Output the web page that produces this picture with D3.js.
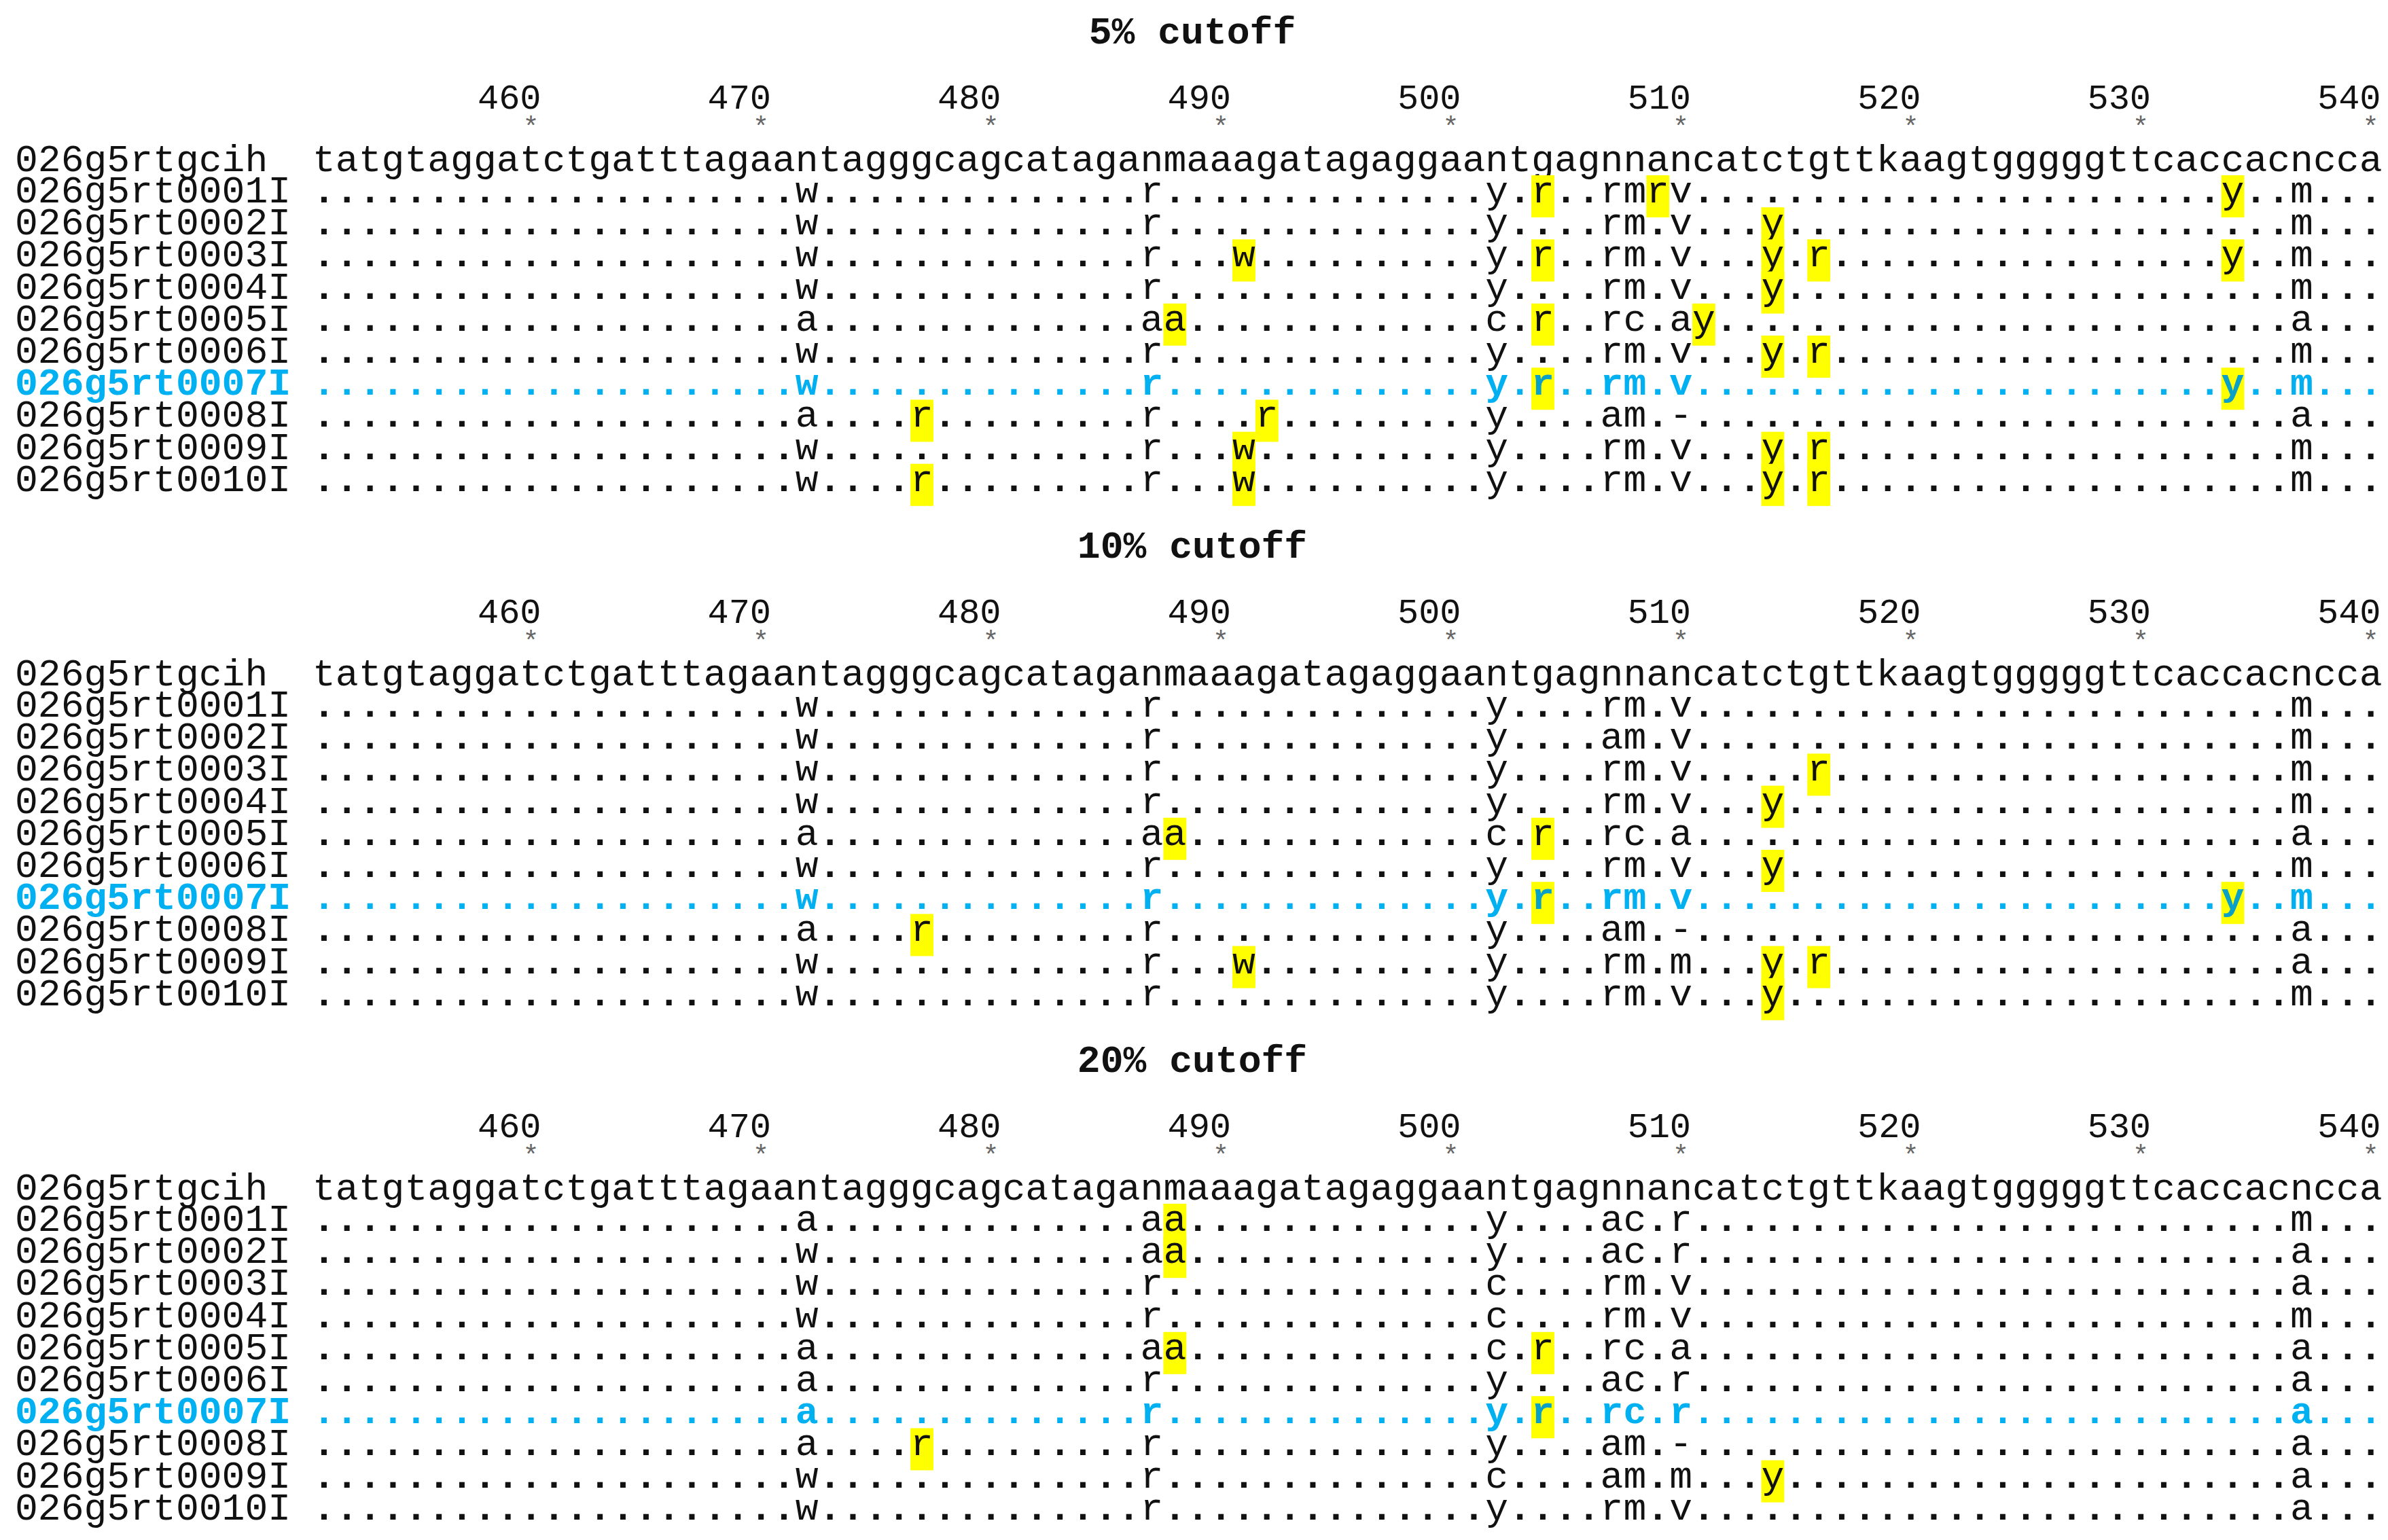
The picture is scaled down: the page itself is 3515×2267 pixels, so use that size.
<!DOCTYPE html>
<html>
<head>
<meta charset="utf-8">
<script src="https://cdn.jsdelivr.net/npm/d3@7"></script>
<style>
  body { margin: 0; background: #fff; }
  text { font-family: "Courier New", "Liberation Mono", monospace; }
</style>
</head>
<body>
<div id="chart"></div>
<script>
// sequence window shown in every panel
var firstPos = 451, lastPos = 540;
var consensus = "tatgtaggatctgatttagaantagggcagcataganmaaagatagaggaantgagnnancatctgttkaagtgggggttcaccacncca";
var refName = "026g5rtgcih";
var sampleNames = ["026g5rt0001I", "026g5rt0002I", "026g5rt0003I", "026g5rt0004I", "026g5rt0005I",
                   "026g5rt0006I", "026g5rt0007I", "026g5rt0008I", "026g5rt0009I", "026g5rt0010I"];
var focusSample = "026g5rt0007I";
var tickPositions = [460, 470, 480, 490, 500, 510, 520, 530, 540];
var cutoffs = ["5% cutoff", "10% cutoff", "20% cutoff"];

// differences from consensus: position + base, "*" = highlighted
var cut5 = [
    "472w 487r 502y 504r* 507r 508m 509r* 510v 534y* 537m",
    "472w 487r 502y 507r 508m 510v 514y* 537m",
    "472w 487r 491w* 502y 504r* 507r 508m 510v 514y* 516r* 534y* 537m",
    "472w 487r 502y 507r 508m 510v 514y* 537m",
    "472a 487a 488a* 502c 504r* 507r 508c 510a 511y* 537a",
    "472w 487r 502y 507r 508m 510v 514y* 516r* 537m",
    "472w 487r 502y 504r* 507r 508m 510v 534y* 537m",
    "472a 477r* 487r 492r* 502y 507a 508m 510- 537a",
    "472w 487r 491w* 502y 507r 508m 510v 514y* 516r* 537m",
    "472w 477r* 487r 491w* 502y 507r 508m 510v 514y* 516r* 537m"
];
var cut10 = [
    "472w 487r 502y 507r 508m 510v 537m",
    "472w 487r 502y 507a 508m 510v 537m",
    "472w 487r 502y 507r 508m 510v 516r* 537m",
    "472w 487r 502y 507r 508m 510v 514y* 537m",
    "472a 487a 488a* 502c 504r* 507r 508c 510a 537a",
    "472w 487r 502y 507r 508m 510v 514y* 537m",
    "472w 487r 502y 504r* 507r 508m 510v 534y* 537m",
    "472a 477r* 487r 502y 507a 508m 510- 537a",
    "472w 487r 491w* 502y 507r 508m 510m 514y* 516r* 537a",
    "472w 487r 502y 507r 508m 510v 514y* 537m"
];
var cut20 = [
    "472a 487a 488a* 502y 507a 508c 510r 537m",
    "472w 487a 488a* 502y 507a 508c 510r 537a",
    "472w 487r 502c 507r 508m 510v 537a",
    "472w 487r 502c 507r 508m 510v 537m",
    "472a 487a 488a* 502c 504r* 507r 508c 510a 537a",
    "472a 487r 502y 507a 508c 510r 537a",
    "472a 487r 502y 504r* 507r 508c 510r 537a",
    "472a 477r* 487r 502y 507a 508m 510- 537a",
    "472w 487r 502c 507a 508m 510m 514y* 537a",
    "472w 487r 502y 507r 508m 510v 537a"
];
var panels = [cut5, cut10, cut20];

var W = 3515, H = 2267;
var fontSize = 56.4;
var black = "#111", blue = "#00b0f0", yellow = "#ffff00";

var svg = d3.select("#chart").append("svg")
    .attr("width", W).attr("height", H);

var positions = d3.range(firstPos, lastPos + 1);
var x = d3.scaleBand().domain(positions).range([460, 460 + positions.length * 33.85]);

var rowY = d3.scalePoint().domain(d3.range(sampleNames.length)).range([298, 298 + 9 * 47.2]);
var panelY = d3.scaleLinear().domain([0, 1]).range([0, 757]);

function parseDiffs(spec) {
    var out = {};
    spec.split(" ").forEach(function (t) {
        var pos = +t.slice(0, 3);
        out[pos] = { base: t.charAt(3), hi: t.charAt(4) === "*" };
    });
    return out;
}

panels.forEach(function (rows, pi) {
    var g = svg.append("g").attr("transform", "translate(0," + panelY(pi) + ")");

    g.append("text")
        .attr("x", 1755).attr("y", 64)
        .attr("text-anchor", "middle")
        .style("font-size", fontSize + "px").style("font-weight", "bold")
        .attr("fill", black)
        .text(cutoffs[pi]);

    // position ticks
    var ticks = g.selectAll(".tick").data(tickPositions).enter().append("g");
    ticks.append("text")
        .attr("x", function (d) { return x(d) + x.bandwidth() / 2 + 15; })
        .attr("y", 160)
        .attr("text-anchor", "end")
        .style("font-size", "52px")
        .attr("fill", black)
        .text(function (d) { return d; });
    ticks.append("text")
        .attr("x", function (d) { return x(d) + x.bandwidth() / 2; })
        .attr("y", 200)
        .attr("text-anchor", "middle")
        .style("font-size", "40px")
        .attr("fill", "#666")
        .text("*");

    // reference row
    g.append("text")
        .attr("x", 22).attr("y", 252)
        .style("font-size", fontSize + "px").attr("fill", black)
        .text(refName);
    g.selectAll(".ref").data(positions).enter().append("text")
        .attr("x", function (d) { return x(d) + x.bandwidth() / 2; })
        .attr("y", 252)
        .attr("text-anchor", "middle")
        .style("font-size", fontSize + "px").attr("fill", black)
        .text(function (d) { return consensus.charAt(d - firstPos); });

    // sample rows
    rows.forEach(function (spec, ri) {
        var diffs = parseDiffs(spec);
        var isFocus = sampleNames[ri] === focusSample;
        var col = isFocus ? blue : black;
        var y = rowY(ri);
        var rg = g.append("g");

        rg.selectAll("rect").data(positions.filter(function (p) { return diffs[p] && diffs[p].hi; }))
            .enter().append("rect")
            .attr("x", function (d) { return x(d); })
            .attr("y", y - 40)
            .attr("width", x.bandwidth())
            .attr("height", 62)
            .attr("fill", yellow);

        rg.append("text")
            .attr("x", 22).attr("y", y)
            .style("font-size", fontSize + "px")
            .style("font-weight", isFocus ? "bold" : "normal")
            .attr("fill", col)
            .text(sampleNames[ri]);

        rg.selectAll(".c").data(positions).enter().append("text")
            .attr("x", function (d) { return x(d) + x.bandwidth() / 2; })
            .attr("y", y)
            .attr("text-anchor", "middle")
            .style("font-size", fontSize + "px")
            .style("font-weight", function (d) { return (isFocus || !diffs[d]) ? "bold" : "normal"; })
            .attr("fill", function (d) { return (isFocus && diffs[d] && diffs[d].hi) ? "#0aa0c8" : col; })
            .text(function (d) { return diffs[d] ? diffs[d].base : "."; });
    });
});
</script>
</body>
</html>
